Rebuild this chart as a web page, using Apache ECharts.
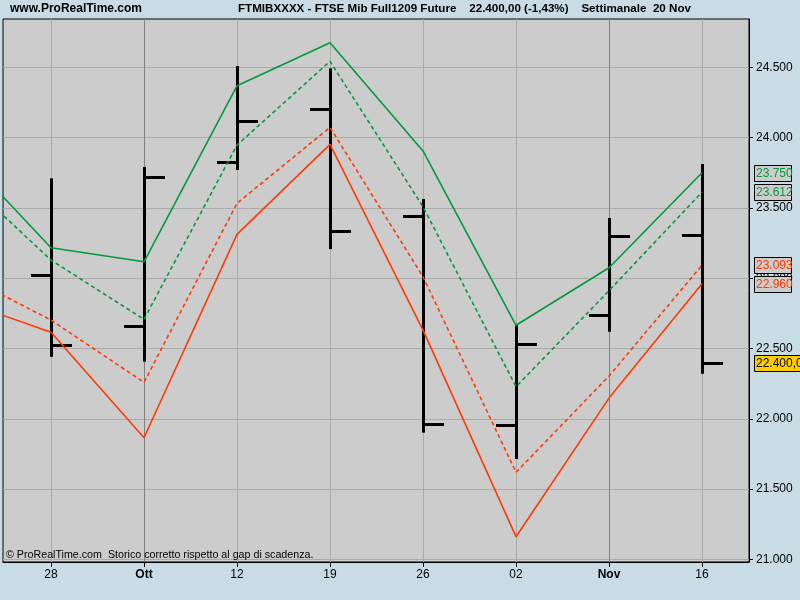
<!DOCTYPE html>
<html><head><meta charset="utf-8">
<script src="https://cdn.jsdelivr.net/npm/echarts@6/dist/echarts.min.js"></script>
<style>html,body{margin:0;padding:0;background:#C9DCE6}#c{width:800px;height:600px}</style>
</head><body><div id="c"></div>
<script>
const weekLabels = ['28','Ott','12','19','26','02','Nov','16'];
const monthWeeks = ['Ott','Nov'];
const barOpen  = [23020,22658,23824,24201,23440,21953,22738,23305];
const barHigh  = [23710,23791,24509,24493,23563,22672,23428,23812];
const barLow   = [22441,22406,23770,23207,21901,21714,22619,22320];
const barClose = [22522,23718,24116,23333,21960,22530,23298,22400];
// week index -1 is the previous week (mostly outside the visible plot)
const lineWeeks   = [-1,0,1,2,3,4,5,6,7];
const upperSolid  = [23920,23217,23117,24369,24675,23905,22665,23074,23750];
const upperDashed = [23748,23129,22707,23947,24543,23508,22228,22911,23612];
const lowerDashed = [23044,22702,22259,23533,24073,23010,21619,22304,23093];
const lowerSolid  = [22849,22615,21865,23312,23952,22631,21161,22147,22960];
const yTicks = [21000,21500,22000,22500,23000,23500,24000,24500];

const GREEN = '#009a3c', RED = '#ff3a00';
const FONT = "'Liberation Sans', Arial, sans-serif";
const fmt = v => String(Math.round(v)).replace(/\B(?=(\d{3})+(?!\d))/g, '.');
const xMin = -0.516, xMax = 7.505;

const chart = echarts.init(document.getElementById('c'), null, {renderer: 'canvas'});

function lineSeries(name, values, color, dashed) {
  return {
    name, type: 'line', z: 5, clip: true, symbol: 'none', animation: false,
    data: lineWeeks.map((w, i) => [w, values[i]]),
    lineStyle: {color, width: 1.6, type: dashed ? [4, 3] : 'solid'}
  };
}

const tags = [
  [upperSolid[upperSolid.length-1], GREEN, '#CCCCCC', fmt(upperSolid[upperSolid.length-1])],
  [upperDashed[upperDashed.length-1], GREEN, '#CCCCCC', fmt(upperDashed[upperDashed.length-1])],
  [lowerDashed[lowerDashed.length-1], RED, '#CCCCCC', fmt(lowerDashed[lowerDashed.length-1])],
  [lowerSolid[lowerSolid.length-1], RED, '#CCCCCC', fmt(lowerSolid[lowerSolid.length-1])],
  [barClose[barClose.length-1], '#000', '#FFCC00', fmt(barClose[barClose.length-1]) + ',0']
];

chart.setOption({
  animation: false,
  backgroundColor: '#C9DCE6',
  title: [
    {text: 'www.ProRealTime.com', left: 10, top: 3, padding: 0,
     textStyle: {fontFamily: FONT, fontSize: 12, fontWeight: 'bold', color: '#000'}},
    {text: 'FTMIBXXXX - FTSE Mib Full1209 Future    22.400,00 (-1,43%)    Settimanale  20 Nov', left: 238, top: 3, padding: 0,
     textStyle: {fontFamily: FONT, fontSize: 11.6, fontWeight: 'bold', color: '#000'}},
    {text: '© ProRealTime.com  Storico corretto rispetto al gap di scadenza.', left: 6, top: 550, padding: 0,
     textStyle: {fontFamily: FONT, fontSize: 10.7, fontWeight: 'normal', color: '#000'}}
  ],
  grid: {left: 3, right: 51, top: 19, bottom: 38, show: true, backgroundColor: '#CCCCCC',
         borderColor: '#000', borderWidth: 1},
  xAxis: {
    type: 'value', min: xMin, max: xMax,
    axisLine: {show: true, onZero: false, lineStyle: {color: '#000'}},
    axisTick: {show: true, customValues: weekLabels.map((_, i) => i), length: 5, lineStyle: {color: '#000'}},
    axisLabel: {
      customValues: weekLabels.map((_, i) => i), margin: 7,
      fontFamily: FONT, fontSize: 12, color: '#000',
      formatter: v => { const l = weekLabels[Math.round(v)]; return monthWeeks.includes(l) ? '{b|' + l + '}' : l; },
      rich: {b: {fontWeight: 'bold', fontFamily: FONT, fontSize: 12, color: '#000'}}
    },
    splitLine: {show: true, lineStyle: {width: 1,
      color: weekLabels.map(l => monthWeeks.includes(l) ? '#808080' : '#AAAAAA')}}
  },
  yAxis: {
    type: 'value', position: 'right', min: 20981, max: 24844, scale: true,
    axisLine: {show: true, onZero: false, lineStyle: {color: '#000'}},
    axisTick: {show: true, customValues: yTicks, length: 4, lineStyle: {color: '#000'}},
    axisLabel: {customValues: yTicks, margin: 7, fontFamily: FONT, fontSize: 12, color: '#000',
      formatter: v => fmt(v)},
    splitLine: {show: true, lineStyle: {color: '#AAAAAA', width: 1}}
  },
  series: [
    {
      name: 'OHLC', type: 'custom', z: 3, clip: true,
      data: barOpen.map((o, i) => [i, o, barHigh[i], barLow[i], barClose[i]]),
      renderItem: (params, api) => {
        const x = api.value(0);
        const pH = api.coord([x, api.value(2)]), pL = api.coord([x, api.value(3)]);
        const pO = api.coord([x, api.value(1)]), pC = api.coord([x, api.value(4)]);
        const cx = Math.round(pH[0]);
        return {type: 'group', children: [
          {type: 'rect', shape: {x: cx - 1, y: pH[1], width: 3, height: pL[1] - pH[1]}, style: {fill: '#000'}},
          {type: 'rect', shape: {x: cx - 20, y: Math.round(pO[1]) - 1, width: 19, height: 3}, style: {fill: '#000'}},
          {type: 'rect', shape: {x: cx + 2, y: Math.round(pC[1]) - 1, width: 19, height: 3}, style: {fill: '#000'}}
        ]};
      }
    },
    lineSeries('upperSolid', upperSolid, GREEN, false),
    lineSeries('upperDashed', upperDashed, GREEN, true),
    lineSeries('lowerDashed', lowerDashed, RED, true),
    lineSeries('lowerSolid', lowerSolid, RED, false),
    {
      name: 'tags', type: 'custom', z: 10, clip: false,
      data: tags.map(t => [t[0]]),
      renderItem: (params, api) => {
        const t = tags[params.dataIndex];
        const p = api.coord([xMax, api.value(0)]);
        const w = t[3].length > 6 ? 46 : 37;
        const x = Math.round(p[0]) + 5, y = Math.round(p[1]) - 8;
        return {type: 'group', children: [
          {type: 'rect', shape: {x: x + 0.5, y: y + 0.5, width: w, height: 16},
           style: {fill: t[2], stroke: '#000', lineWidth: 1}},
          {type: 'text', style: {x: x + 2, y: y + 9, text: t[3], fill: t[1], font: '12px ' + FONT,
            verticalAlign: 'middle', align: 'left'}}
        ]};
      }
    }
  ]
});
</script></body></html>
